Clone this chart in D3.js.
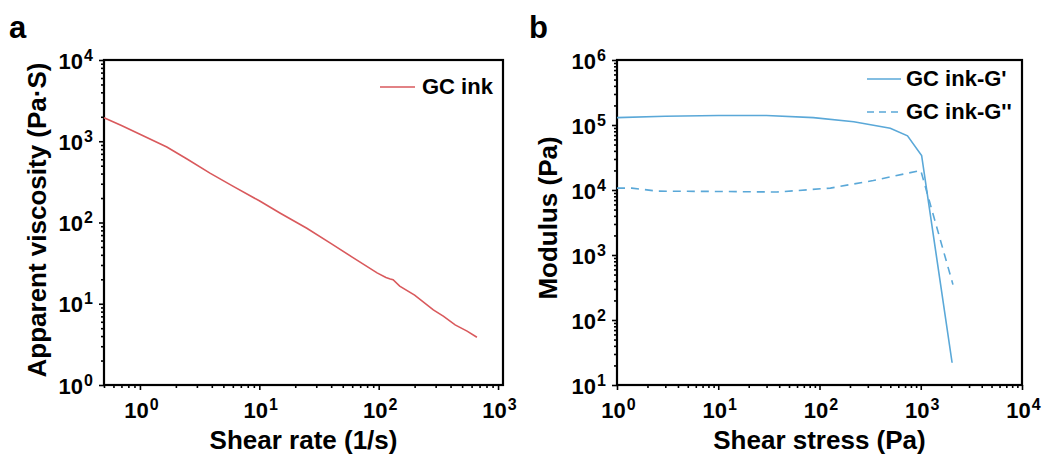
<!doctype html>
<html lang="en">
<head>
<meta charset="UTF-8">
<title>GC ink rheology</title>
<script src="https://cdn.jsdelivr.net/npm/d3@7"></script>
<style>
  body { margin: 0; background: #fff; }
  text { font-family: "Liberation Sans", Arial, sans-serif; font-weight: bold; fill: #000; }
</style>
</head>
<body>
<svg width="1043" height="459"></svg>
<script>
// panel a: apparent viscosity vs shear rate
const shearRate = [0.5, 0.7, 1.0, 1.68, 2.5, 3.86, 6, 10, 15, 25, 40, 60, 97, 115, 125, 132, 150, 200, 287, 350, 437, 550, 665];
const viscosity = [1950, 1560, 1220, 850, 600, 405, 280, 185, 130, 85, 55, 37.5, 24, 21, 20.2, 19.8, 16.5, 12.8, 8.4, 7.0, 5.5, 4.6, 3.87];

// panel b: modulus vs shear stress
const stressG1 = [1, 3, 10, 30, 87, 218, 500, 740, 1020, 2040];
const gPrime = [1.3e5, 1.36e5, 1.4e5, 1.4e5, 1.3e5, 1.12e5, 8.9e4, 6.8e4, 3.4e4, 22];
const stressG2 = [1, 1.4, 2.5, 10, 38, 128, 340, 1000, 2080];
const gDouble = [1.07e4, 1.07e4, 9.6e3, 9.5e3, 9.3e3, 1.07e4, 1.4e4, 2.0e4, 350];

const xTicksA = [1, 10, 100, 1000];
const yTicksA = [1, 10, 100, 1000, 10000];
const xTicksB = [1, 10, 100, 1000, 10000];
const yTicksB = [10, 100, 1000, 10000, 100000, 1000000];

const svg = d3.select("svg");

function minorTicks(domain) {
  const out = [];
  const lo = Math.floor(Math.log10(domain[0])), hi = Math.ceil(Math.log10(domain[1]));
  for (let e = lo; e < hi; e++) {
    for (let k = 2; k <= 9; k++) {
      const v = k * Math.pow(10, e);
      if (v >= domain[0] && v <= domain[1]) out.push(v);
    }
  }
  return out;
}

function powLabel(sel, v) {
  const e = Math.round(Math.log10(v));
  sel.text(null);
  sel.append("tspan").style("font-size", "22px").text("10");
  sel.append("tspan").attr("dx", "1").attr("dy", "-8").style("font-size", "16px").text(e);
}

function panel(opt) {
  const x = d3.scaleLog().domain(opt.xDomain).range([opt.left, opt.right]);
  const y = d3.scaleLog().domain(opt.yDomain).range([opt.bottom, opt.top]);
  const g = svg.append("g");

  // minor ticks
  const xAxisMinor = d3.axisBottom(x).tickValues(minorTicks(opt.xDomain)).tickSize(3).tickFormat("");
  const yAxisMinor = d3.axisLeft(y).tickValues(minorTicks(opt.yDomain)).tickSize(3).tickFormat("");
  g.append("g").attr("transform", `translate(0,${opt.bottom})`).call(xAxisMinor);
  g.append("g").attr("transform", `translate(${opt.left},0)`).call(yAxisMinor);

  // major ticks
  const xa = g.append("g").attr("transform", `translate(0,${opt.bottom})`)
    .call(d3.axisBottom(x).tickValues(opt.xTicks).tickSize(5).tickPadding(6));
  xa.selectAll("text").attr("dy", "22").attr("x", 1)
    .each(function (d) { powLabel(d3.select(this), d); });
  const ya = g.append("g").attr("transform", `translate(${opt.left},0)`)
    .call(d3.axisLeft(y).tickValues(opt.yTicks).tickSize(5).tickPadding(6));
  ya.selectAll("text").attr("dy", "8")
    .each(function (d) { powLabel(d3.select(this), d); });

  g.selectAll(".domain").remove();
  g.selectAll(".tick line").attr("stroke", "#000").attr("stroke-width", 1.6);

  // frame
  g.append("rect")
    .attr("x", opt.left).attr("y", opt.top)
    .attr("width", opt.right - opt.left).attr("height", opt.bottom - opt.top)
    .attr("fill", "none").attr("stroke", "#000").attr("stroke-width", 2.2);

  // titles
  g.append("text").attr("x", (opt.left + opt.right) / 2).attr("y", 449)
    .attr("text-anchor", "middle").style("font-size", "26px").text(opt.xTitle);
  g.append("text").attr("transform", `translate(${opt.yTitleX},${opt.yTitleY}) rotate(-90)`)
    .attr("text-anchor", "middle").style("font-size", "26px").text(opt.yTitle);
  g.append("text").attr("x", opt.letterX).attr("y", 38).style("font-size", "31px").text(opt.letter);

  return { g, x, y };
}

// ---- panel a
const A = panel({
  left: 104, right: 503, top: 60, bottom: 385,
  xDomain: [0.5, 1100], yDomain: [1, 10000],
  xTicks: xTicksA, yTicks: yTicksA,
  xTitle: "Shear rate (1/s)", yTitle: "Apparent viscosity (Pa\u00b7S)",
  yTitleX: 46, yTitleY: 220, letter: "a", letterX: 9
});
const lineA = d3.line().x(d => A.x(d[0])).y(d => A.y(d[1]));
A.g.append("path").datum(d3.zip(shearRate, viscosity))
  .attr("d", lineA).attr("fill", "none").attr("stroke", "#d9595c").attr("stroke-width", 1.6);
A.g.append("line").attr("x1", 380).attr("x2", 415).attr("y1", 87).attr("y2", 87)
  .attr("stroke", "#d9595c").attr("stroke-width", 1.6);
A.g.append("text").attr("x", 422).attr("y", 94).style("font-size", "22px").text("GC ink");

// ---- panel b
const B = panel({
  left: 617, right: 1022, top: 60, bottom: 385,
  xDomain: [1, 10000], yDomain: [10, 1000000],
  xTicks: xTicksB, yTicks: yTicksB,
  xTitle: "Shear stress (Pa)", yTitle: "Modulus (Pa)",
  yTitleX: 557, yTitleY: 218, letter: "b", letterX: 529
});
const lineB = d3.line().x(d => B.x(d[0])).y(d => B.y(d[1]));
const blue = "#5aa8d8";
B.g.append("path").datum(d3.zip(stressG1, gPrime))
  .attr("d", lineB).attr("fill", "none").attr("stroke", blue).attr("stroke-width", 1.6);
B.g.append("path").datum(d3.zip(stressG2, gDouble))
  .attr("d", lineB).attr("fill", "none").attr("stroke", blue).attr("stroke-width", 1.6)
  .attr("stroke-dasharray", "8,6");
B.g.append("line").attr("x1", 867).attr("x2", 901).attr("y1", 79).attr("y2", 79)
  .attr("stroke", blue).attr("stroke-width", 1.6);
B.g.append("line").attr("x1", 867).attr("x2", 903).attr("y1", 112).attr("y2", 112)
  .attr("stroke", blue).attr("stroke-width", 1.6).attr("stroke-dasharray", "7,5");
B.g.append("text").attr("x", 906).attr("y", 86).style("font-size", "22px").text("GC ink-G'");
B.g.append("text").attr("x", 906).attr("y", 119).style("font-size", "22px").text("GC ink-G''");
</script>
</body>
</html>
